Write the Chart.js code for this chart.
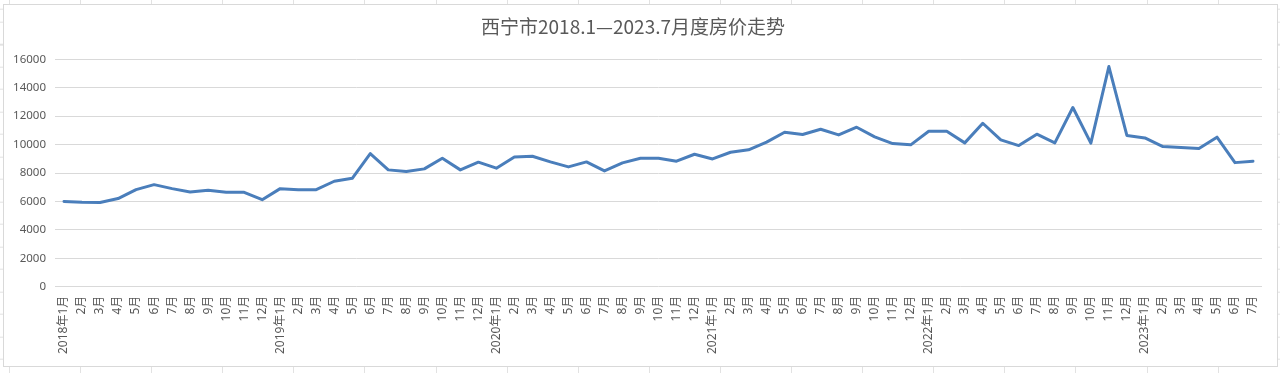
<!DOCTYPE html>
<html>
<head>
<meta charset="utf-8">
<script src="https://cdn.jsdelivr.net/npm/chart.js@4.4.0/dist/chart.umd.min.js"></script>
<style>
  html, body { margin: 0; padding: 0; }
  body {
    width: 1280px; height: 373px; overflow: hidden; position: relative;
    background-color: #ffffff;
    background-image:
      repeating-linear-gradient(to right, #e2e2e2 0, #e2e2e2 1px, transparent 1px, transparent 71.1px),
      repeating-linear-gradient(to bottom, #e2e2e2 0, #e2e2e2 1px, transparent 1px, transparent 22.5px);
    background-position: 9px 0, 0 21.7px;
  }
  #frame {
    position: absolute; left: 3px; top: 4px; width: 1273px; height: 361px;
    border: 1px solid #d9d9d9; background: #ffffff;
  }
  #c { display: block; }
</style>
</head>
<body>
<div id="frame"><canvas id="c" width="1273" height="361"></canvas></div>
<script>
const titleText = '西宁市2018.1—2023.7月度房价走势';

const categories = [
  '2018年1月','2月','3月','4月','5月','6月','7月','8月','9月','10月','11月','12月',
  '2019年1月','2月','3月','4月','5月','6月','7月','8月','9月','10月','11月','12月',
  '2020年1月','2月','3月','4月','5月','6月','7月','8月','9月','10月','11月','12月',
  '2021年1月','2月','3月','4月','5月','6月','7月','8月','9月','10月','11月','12月',
  '2022年1月','2月','3月','4月','5月','6月','7月','8月','9月','10月','11月','12月',
  '2023年1月','2月','3月','4月','5月','6月','7月'
];

const prices2018 = [6000, 5950, 5930, 6200, 6830, 7180, 6900, 6670, 6790, 6650, 6640, 6120];
const prices2019 = [6900, 6830, 6830, 7420, 7630, 9370, 8220, 8100, 8290, 9040, 8220, 8760];
const prices2020 = [8340, 9130, 9180, 8780, 8430, 8780, 8150, 8710, 9040, 9040, 8830, 9320];
const prices2021 = [8990, 9460, 9630, 10170, 10870, 10710, 11080, 10680, 11220, 10540, 10070, 9980];
const prices2022 = [10940, 10940, 10120, 11500, 10330, 9930, 10730, 10120, 12610, 10100, 15490, 10640];
const prices2023 = [10470, 9860, 9790, 9720, 10520, 8730, 8830];

const yTicks = [0, 2000, 4000, 6000, 8000, 10000, 12000, 14000, 16000];

const prices = [].concat(prices2018, prices2019, prices2020, prices2021, prices2022, prices2023);

const textColor = '#595959';
const gridColor = '#d9d9d9';
const fontFamily = '"Noto Sans", "Noto Sans CJK SC", sans-serif';

new Chart(document.getElementById('c'), {
  type: 'line',
  data: {
    labels: categories,
    datasets: [{
      label: '房价',
      data: prices,
      borderColor: '#4a7ebb',
      backgroundColor: '#4a7ebb',
      borderWidth: 3,
      pointRadius: 0,
      pointHoverRadius: 0,
      tension: 0,
      borderJoinStyle: 'round',
      borderCapStyle: 'round',
      fill: false
    }]
  },
  options: {
    responsive: false,
    animation: false,
    layout: { padding: { left: 0, right: 15, top: 0, bottom: 0 } },
    plugins: {
      legend: { display: false },
      tooltip: { enabled: false },
      title: {
        display: true,
        text: titleText,
        color: textColor,
        font: { family: '"Noto Sans CJK SC", sans-serif', size: 19, weight: 'normal', lineHeight: 1.2 },
        padding: { top: 10, bottom: 21.5 }
      }
    },
    scales: {
      x: {
        type: 'category',
        offset: true,
        grid: { display: false, drawTicks: false },
        border: { display: false },
        ticks: {
          autoSkip: false,
          maxRotation: 90,
          minRotation: 90,
          padding: 9,
          color: textColor,
          font: { family: fontFamily, size: 12 }
        },
        afterFit(scale) { scale.height = 79.3; }
      },
      y: {
        min: 0,
        max: 16000,
        afterBuildTicks(scale) { scale.ticks = yTicks.map(v => ({ value: v })); },
        grid: { color: gridColor, lineWidth: 1, drawTicks: false },
        border: { display: false },
        ticks: {
          padding: 9,
          color: textColor,
          font: { family: fontFamily, size: 11.5 },
          callback: (v) => String(v)
        },
        afterFit(scale) { scale.width = 51; }
      }
    }
  }
});
</script>
</body>
</html>
